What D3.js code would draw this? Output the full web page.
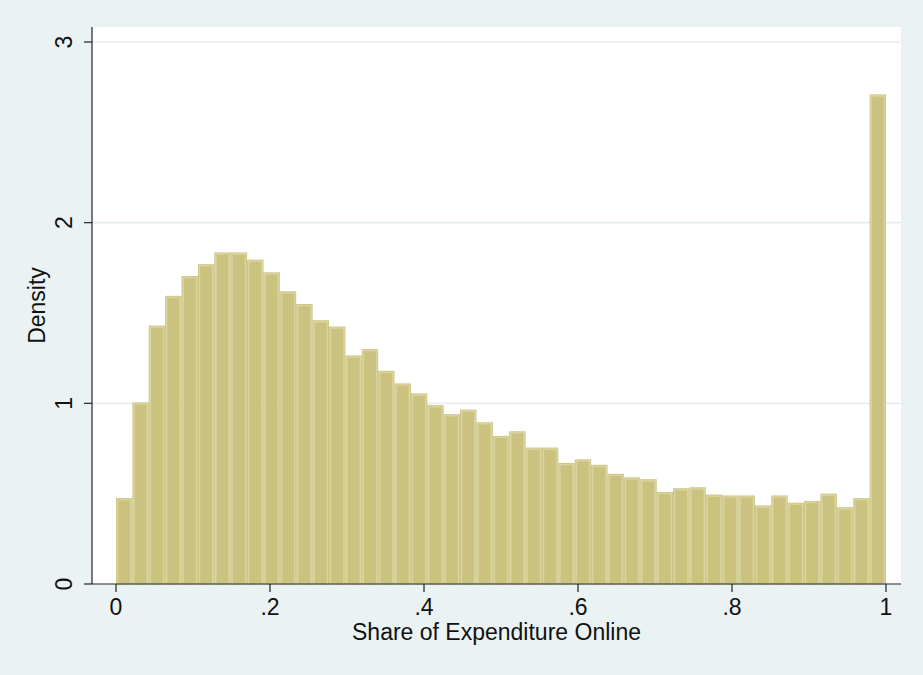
<!DOCTYPE html>
<html>
<head>
<meta charset="utf-8">
<script src="https://cdn.jsdelivr.net/npm/d3@7"></script>
<style>
	body { margin: 0; background: #eaf2f3; }
	svg text { font-family: "Liberation Sans", Arial, Helvetica, sans-serif; fill: #111; }
</style>
</head>
<body>
<div id="chart"></div>
<script>
// Histogram of the online share, 47 equal bins on [0, 1]
let binStart = 0;
let binWidth = 1 / 47;
let density = [
	0.476, 1.005, 1.43, 1.595, 1.705, 1.77, 1.835, 1.835, 1.795, 1.725,
	1.62, 1.55, 1.46, 1.425, 1.265, 1.30, 1.18, 1.11, 1.055, 0.99,
	0.94, 0.965, 0.895, 0.82, 0.845, 0.755, 0.755, 0.67, 0.69, 0.66,
	0.61, 0.59, 0.58, 0.51, 0.53, 0.535, 0.495, 0.49, 0.49, 0.435,
	0.49, 0.45, 0.46, 0.50, 0.425, 0.475, 2.71
];

let xTicks = [0, 0.2, 0.4, 0.6, 0.8, 1];
let xTickLabels = ['0', '.2', '.4', '.6', '.8', '1'];
let yTicks = [0, 1, 2, 3];

let width = 923;
let height = 675;

// plot region (white box) in pixels
let P = { left: 92, right: 901, top: 27, bottom: 584 };
let T = 8; // tick length

let svg = d3.select('#chart').append('svg')
		.attr('width', width)
		.attr('height', height);

svg.append('rect')
		.attr('width', width).attr('height', height)
		.attr('fill', '#eaf2f3');

svg.append('rect')
		.attr('x', P.left).attr('y', P.top)
		.attr('width', P.right - P.left).attr('height', P.bottom - P.top)
		.attr('fill', '#ffffff');

let xScale = d3.scaleLinear().domain([0, 1]).range([116, 886]);
let yScale = d3.scaleLinear().domain([0, 3]).range([P.bottom, 42]);

// horizontal grid lines
svg.append('g').selectAll('line').data(yTicks.filter(d => d > 0)).enter().append('line')
		.attr('x1', P.left).attr('x2', P.right)
		.attr('y1', d => yScale(d)).attr('y2', d => yScale(d))
		.attr('stroke', '#e6eef0')
		.attr('stroke-width', 1.6);

// bars
let bars = svg.append('g').selectAll('g').data(density).enter().append('g');
bars.append('rect')
		.attr('x', (d, i) => xScale(binStart + i * binWidth))
		.attr('y', d => yScale(d))
		.attr('width', (d, i) => xScale(binStart + (i + 1) * binWidth) - xScale(binStart + i * binWidth))
		.attr('height', d => yScale(0) - yScale(d))
		.attr('fill', '#cac27e');
bars.append('rect')
		.attr('x', (d, i) => xScale(binStart + i * binWidth) + 1.5)
		.attr('y', d => yScale(d) + 1.5)
		.attr('width', (d, i) => xScale(binStart + (i + 1) * binWidth) - xScale(binStart + i * binWidth) - 3)
		.attr('height', d => Math.max(0, yScale(0) - yScale(d) - 1.5))
		.attr('fill', 'none')
		.attr('stroke', '#d9d49f')
		.attr('stroke-width', 1.6);

// x axis
let xAxis = svg.append('g')
		.attr('transform', `translate(0, ${P.bottom})`);
xAxis.append('line')
		.attr('x1', P.left).attr('x2', P.right)
		.attr('stroke', '#222').attr('stroke-width', 1.2);
xAxis.selectAll('.tick').data(xTicks).enter().append('line')
		.attr('x1', d => xScale(d)).attr('x2', d => xScale(d))
		.attr('y1', 0).attr('y2', T)
		.attr('stroke', '#222').attr('stroke-width', 1.2);
xAxis.selectAll('text').data(xTicks).enter().append('text')
		.attr('x', d => xScale(d))
		.attr('y', 31)
		.attr('text-anchor', 'middle')
		.style('font-size', '23px')
		.text((d, i) => xTickLabels[i]);

// y axis
let yAxis = svg.append('g')
		.attr('transform', `translate(${P.left}, 0)`);
yAxis.append('line')
		.attr('y1', P.top).attr('y2', P.bottom)
		.attr('stroke', '#222').attr('stroke-width', 1.2);
yAxis.selectAll('.tick').data(yTicks).enter().append('line')
		.attr('y1', d => yScale(d)).attr('y2', d => yScale(d))
		.attr('x1', -T).attr('x2', 0)
		.attr('stroke', '#222').attr('stroke-width', 1.2);
yAxis.selectAll('text').data(yTicks).enter().append('text')
		.attr('transform', d => `translate(-20, ${yScale(d)}) rotate(-90)`)
		.attr('text-anchor', 'middle')
		.style('font-size', '23px')
		.text(d => d);

// axis titles
svg.append('text')
		.attr('x', (P.left + P.right) / 2)
		.attr('y', 640)
		.attr('text-anchor', 'middle')
		.style('font-size', '23px')
		.text('Share of Expenditure Online');

svg.append('text')
		.attr('transform', `translate(45, ${(P.top + P.bottom) / 2}) rotate(-90)`)
		.attr('text-anchor', 'middle')
		.style('font-size', '23px')
		.text('Density');
</script>
</body>
</html>
